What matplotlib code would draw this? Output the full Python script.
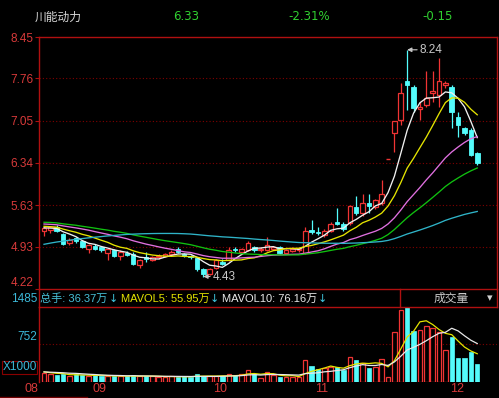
import matplotlib
matplotlib.use('Agg')
import matplotlib.pyplot as plt
import matplotlib.transforms as mtransforms
from matplotlib.patches import Rectangle
from matplotlib.lines import Line2D
import pandas as pd

plt.rcParams['font.family'] = ['Liberation Sans', 'Noto Sans CJK SC', 'DejaVu Sans']

# ---------------- data ----------------
stock_name = '川能动力'
last_price = '6.33'
pct_change = '-2.31%'
abs_change = '-0.15'

opens = [5.19, 5.21, 5.27, 5.15, 5.00, 5.07, 5.02, 4.90, 4.95, 4.92,
         4.82, 4.88, 4.78, 4.83, 4.81, 4.62, 4.76, 4.71, 4.75, 4.77,
         4.80, 4.90, 4.80, 4.77, 4.74, 4.56, 4.48, 4.58, 4.68, 4.71,
         4.90, 4.85, 4.88, 4.92, 4.87, 4.88, 4.90, 4.93, 4.83, 4.86,
         4.87, 4.82, 5.21, 5.18, 5.12, 5.20, 5.35, 5.31, 5.33, 5.60,
         5.49, 5.66, 5.60, 5.67, 6.40, 6.84, 7.06, 7.71, 7.62, 7.25,
         7.31, 7.52, 7.48, 7.65, 7.62, 7.11, 6.92, 6.89, 6.50]
highs = [5.26, 5.28, 5.29, 5.16, 5.07, 5.10, 5.04, 4.98, 4.97, 4.93,
         4.91, 4.90, 4.87, 4.86, 4.84, 4.73, 4.85, 4.78, 4.80, 4.82,
         4.87, 4.92, 4.82, 4.79, 4.76, 4.58, 4.58, 4.73, 4.72, 4.93,
         4.93, 4.91, 5.02, 4.95, 4.92, 5.10, 4.95, 4.95, 4.90, 4.93,
         4.92, 5.27, 5.38, 5.27, 5.23, 5.34, 5.58, 5.34, 5.64, 5.78,
         5.82, 5.82, 5.74, 6.05, 6.40, 7.04, 7.69, 8.24, 7.65, 7.37,
         7.88, 7.88, 8.10, 7.72, 7.65, 7.20, 6.95, 6.92, 6.52]
lows = [5.11, 5.16, 5.17, 4.96, 4.96, 5.00, 4.91, 4.82, 4.88, 4.85,
        4.71, 4.76, 4.71, 4.77, 4.62, 4.57, 4.68, 4.69, 4.73, 4.75,
        4.78, 4.83, 4.75, 4.73, 4.53, 4.43, 4.45, 4.56, 4.62, 4.69,
        4.85, 4.83, 4.86, 4.85, 4.85, 4.86, 4.87, 4.80, 4.81, 4.84,
        4.85, 4.80, 5.14, 5.12, 5.10, 5.18, 5.30, 5.20, 5.30, 5.46,
        5.45, 5.49, 5.56, 5.64, 6.40, 6.52, 6.97, 7.23, 7.20, 7.06,
        7.28, 7.37, 7.28, 7.60, 6.92, 6.77, 6.80, 6.45, 6.30]
closes = [5.24, 5.26, 5.19, 4.98, 5.05, 5.02, 4.93, 4.96, 4.89, 4.87,
          4.89, 4.78, 4.85, 4.79, 4.64, 4.71, 4.73, 4.76, 4.78, 4.80,
          4.85, 4.85, 4.77, 4.75, 4.55, 4.48, 4.55, 4.70, 4.64, 4.88,
          4.88, 4.89, 5.00, 4.87, 4.90, 4.96, 4.93, 4.82, 4.88, 4.90,
          4.90, 5.19, 5.17, 5.16, 5.20, 5.31, 5.32, 5.22, 5.61, 5.49,
          5.66, 5.61, 5.71, 5.82, 6.40, 7.04, 7.52, 7.65, 7.26, 7.28,
          7.43, 7.55, 7.71, 7.69, 7.20, 6.97, 6.84, 6.48, 6.33]
# volume in thousands of shares
volumes = [170, 150, 140, 160, 110, 150, 140, 120, 130, 120,
           120, 110, 120, 110, 130, 110, 120, 110, 100, 100,
           110, 100, 110, 100, 150, 120, 110, 110, 120, 150,
           140, 150, 240, 160, 80, 205, 139, 92, 92, 106,
           106, 436, 317, 251, 271, 304, 304, 238, 502, 436,
           383, 271, 304, 449, 92, 996, 1430, 1485, 1016, 1030,
           1100, 1060, 990, 638, 895, 469, 469, 601, 363.7]
# closes / volumes before the visible window, estimated from where the MA lines start
history_close = [4.05, 4.08, 4.10, 4.12, 4.15, 4.18, 4.20, 4.22, 4.25, 4.24,
                 4.27, 4.30, 4.33, 4.35, 4.45, 4.55, 4.62, 4.70, 4.78, 4.85,
                 4.92, 5.00, 5.05, 5.10, 5.12, 5.15, 5.18, 5.20, 5.22, 5.30,
                 5.35, 5.42, 5.45, 5.40, 5.38, 5.45, 5.42, 5.38, 5.40, 5.35,
                 5.38, 5.32, 5.36, 5.40, 5.34, 5.30, 5.36, 5.38, 5.33, 5.33,
                 5.32, 5.28, 5.30, 5.33, 5.27, 5.28, 5.22, 5.26, 5.24]
history_volume = [210, 190, 220, 200, 180, 230, 200, 190, 210]

ma_periods = [5, 10, 20, 30, 60]
ma_colors = ['#f0f0f0', '#e4e400', '#e070e0', '#10c010', '#2fb4c8']
vol_ma_periods = [5, 10]
vol_ma_colors = ['#e4e400', '#e8e8e8']

month_labels = ['08', '09', '10', '11', '12']
month_pos = [-1.9, 8.7, 27.7, 43.6, 64.8]
price_ticks = [8.45, 7.76, 7.05, 6.34, 5.63, 4.93, 4.22]
vol_ticks = [752, 1485]
high_mark = (57, '8.24')
low_mark = (25, '4.43')

legend_labels = ['总手: 36.37万', 'MAVOL5: 55.95万', 'MAVOL10: 76.16万']
legend_colors = ['#48c0d8', '#e4e400', '#e8e8e8']

# ---------------- style ----------------
W, H = 499, 398
RED = '#f03434'
CYAN = '#54fcfc'
BORDER = '#b01010'
GRID = '#800000'
LABEL_RED = '#d83a3a'
TEAL = '#3cb8d8'


def fx(x):
    return x / W


def fy(y):
    return 1 - y / H


fig = plt.figure(figsize=(W / 100, H / 100), dpi=100, facecolor='black')
N = len(closes)

ax = fig.add_axes([fx(39), fy(289), fx(497) - fx(39), fy(37.3) - fy(289)])
axv = fig.add_axes([fx(39), fy(382), fx(497) - fx(39), fy(307) - fy(382)])
for a in (ax, axv):
    a.set_facecolor('black')
    a.set_xlim(-0.785, 71.1)
    a.set_xticks([])
    for s in a.spines.values():
        s.set_color(BORDER)
        s.set_linewidth(1)

ax.set_ylim(4.22, 8.45)
axv.set_ylim(0, 1485)
axv.spines['bottom'].set_visible(False)
axv.spines['right'].set_visible(False)

# price axis ticks and grid
ax.set_yticks(price_ticks)
ax.set_yticklabels(['%.2f' % t for t in price_ticks])
ax.tick_params(axis='y', colors=BORDER, labelcolor=LABEL_RED, labelsize=8.5,
               length=3, width=0.8, pad=1)
# the bottom price label sits just above the panel edge
ax.get_yticklabels()[-1].set_verticalalignment('bottom')
for t in price_ticks[1:-1]:
    ax.axhline(t, color=GRID, lw=0.8, ls=(0, (1, 2)), zorder=0)

# volume axis labels and grid
axv.set_yticks([])
axv.axhline(vol_ticks[0], color=GRID, lw=0.8, ls=(0, (1, 2)), zorder=0)
for v in vol_ticks:
    fig.text(fx(37.5), fy(305.5 if v == vol_ticks[1] else 343.5), str(v), color=TEAL,
             fontsize=8.5, ha='right', va='bottom')
fig.patches.append(Rectangle((fx(1.5), fy(374)), fx(37) - fx(1.5), fy(361) - fy(374),
                             transform=fig.transFigure, fill=False, edgecolor='#8a0000', lw=0.8))
fig.text(fx(19.5), fy(367.5), 'X1000', color=TEAL, fontsize=8.5, ha='center', va='center')

# candles
bw = 0.72
for i in range(N):
    o, h, l, c = opens[i], highs[i], lows[i], closes[i]
    if c > o:
        ax.vlines(i, c, h, color=RED, lw=0.9, zorder=2)
        ax.vlines(i, l, o, color=RED, lw=0.9, zorder=2)
        ax.add_patch(Rectangle((i - bw / 2, o), bw, c - o, facecolor='black',
                               edgecolor=RED, lw=0.9, zorder=2))
    elif c == o:
        ax.vlines(i, l, h, color=RED, lw=0.9, zorder=2)
        ax.hlines(o, i - bw / 2, i + bw / 2, color=RED, lw=1.0, zorder=2)
    else:
        ax.vlines(i, l, h, color=CYAN, lw=0.9, zorder=2)
        ax.add_patch(Rectangle((i - bw / 2, c), bw, o - c, facecolor=CYAN,
                               edgecolor=CYAN, lw=0.6, zorder=2))

# moving averages
full_close = pd.Series(history_close + closes)
for p, col in zip(ma_periods, ma_colors):
    ma = full_close.rolling(p).mean().iloc[-N:].values
    ax.plot(range(N), ma, color=col, lw=0.95, zorder=3)

# high / low marks
for (idx, txt), val, dx in ((high_mark, highs[high_mark[0]], 2.0), (low_mark, lows[low_mark[0]], 1.5)):
    ax.annotate(txt, xy=(idx, val), xytext=(idx + dx, val), color='#c8c8c8', fontsize=8.5,
                va='center', ha='left', zorder=4,
                arrowprops=dict(arrowstyle='-|>,head_length=0.3,head_width=0.15',
                                color='#c8c8c8', lw=0.8, shrinkA=0, shrinkB=0))

# volume bars
vw = 0.7
for i in range(N):
    v = volumes[i]
    if closes[i] >= opens[i]:
        axv.add_patch(Rectangle((i - vw / 2, 0), vw, v, facecolor='black',
                                edgecolor=RED, lw=0.9, zorder=2))
    else:
        axv.add_patch(Rectangle((i - vw / 2, 0), vw, v, facecolor=CYAN,
                                edgecolor=CYAN, lw=0.5, zorder=2))
full_vol = pd.Series(history_volume + volumes)
for p, col in zip(vol_ma_periods, vol_ma_colors):
    vma = full_vol.rolling(p).mean().iloc[-N:].values
    axv.plot(range(N), vma, color=col, lw=0.9, zorder=3)

# month labels
blend = mtransforms.blended_transform_factory(axv.transData, fig.transFigure)
for lab, pos in zip(month_labels, month_pos):
    axv.text(pos, fy(388.5), lab, transform=blend, color=LABEL_RED, fontsize=9,
             ha='center', va='center', clip_on=False)

# header
fig.text(fx(35), fy(17), stock_name, color='#d8d8d8', fontsize=8.5,
         family=['Noto Sans CJK SC', 'DejaVu Sans'], ha='left', va='center')
GREEN = '#30d030'
for xc, txt in ((186, last_price), (309, pct_change), (438, abs_change)):
    fig.text(fx(xc), fy(17), txt, color=GREEN, fontsize=8.5, ha='center', va='center',
             family=['DejaVu Sans'])

# volume legend row: texts placed one after another
renderer = fig.canvas.get_renderer()
cjk = ['Liberation Sans', 'Noto Sans CJK SC', 'DejaVu Sans']
xcur = 40.5
for txt, col in zip(legend_labels, legend_colors):
    t = fig.text(fx(xcur), fy(298.5), txt, color=col, fontsize=8, family=cjk,
                 ha='left', va='center')
    bb = t.get_window_extent(renderer)
    xcur = bb.x1 + 0.5
    a = fig.text(fx(xcur), fy(298.5), '↓', color='#40c8e0', fontsize=8,
                 family=['DejaVu Sans'], ha='left', va='center')
    xcur = a.get_window_extent(renderer).x1 + 3
fig.text(fx(451), fy(298.5), '成交量', color='#c8c8c8', fontsize=8.5,
         family=['Noto Sans CJK SC', 'DejaVu Sans'], ha='center', va='center')
fig.text(fx(490), fy(298.5), '▾', color='#d0d0d0', fontsize=8,
         family=['DejaVu Sans'], ha='center', va='center')

# frame lines of the header row
for xl in (39, 400, 497):
    fig.lines.append(Line2D([fx(xl), fx(xl)], [fy(289), fy(307)], transform=fig.transFigure,
                            color=BORDER, lw=1))
fig.lines.append(Line2D([fx(0), fx(87)], [fy(396.5), fy(396.5)], transform=fig.transFigure,
                        color='#700000', lw=1))

fig.savefig('out.png', dpi=100, facecolor='black')
